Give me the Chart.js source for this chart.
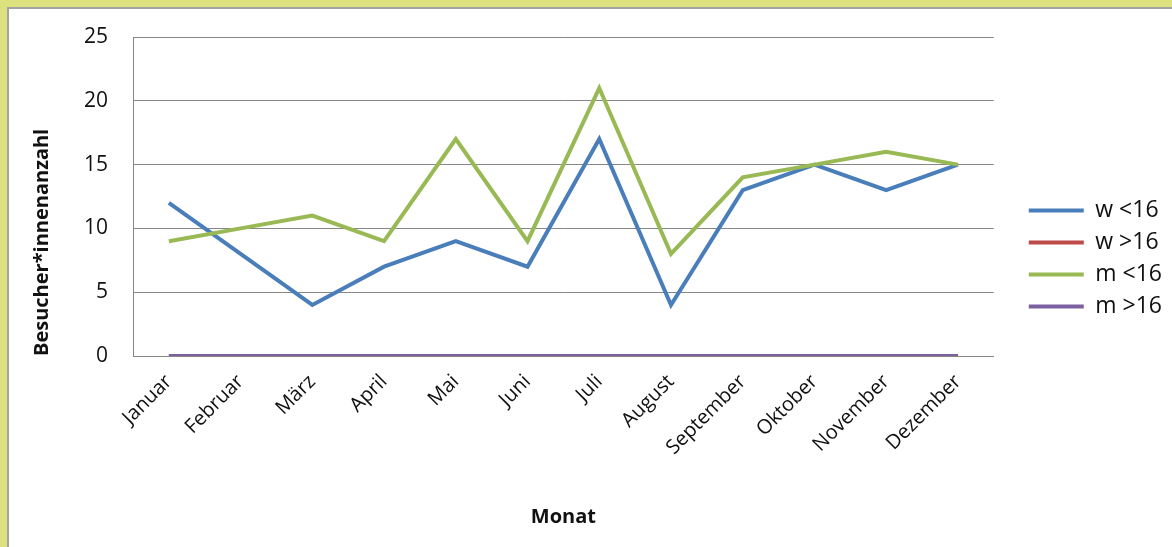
<!DOCTYPE html>
<html>
<head>
<meta charset="utf-8">
<script src="https://cdn.jsdelivr.net/npm/chart.js@4.4.1/dist/chart.umd.min.js"></script>
<style>
  html, body { margin: 0; padding: 0; background: #dde27f; overflow: hidden; }
  .frame {
    position: absolute; left: 7px; top: 7px;
    width: 1163px; height: 538px;
    border-top: 2px solid #a3a3a3; border-left: 2px solid #a3a3a3;
    background: #fff;
  }
  canvas { display: block; }
</style>
</head>
<body>
<div class="frame"><canvas id="chart" width="1163" height="538"></canvas></div>
<script>
const months = ['Januar', 'Februar', 'März', 'April', 'Mai', 'Juni', 'Juli',
    'August', 'September', 'Oktober', 'November', 'Dezember'];
const seriesNames = ['w <16', 'w >16', 'm <16', 'm >16'];
const wUnder16 = [12, 8, 4, 7, 9, 7, 17, 4, 13, 15, 13, 15];
const wOver16 = [0, 0, 0, 0, 0, 0, 0, 0, 0, 0, 0, 0];
const mUnder16 = [9, 10, 11, 9, 17, 9, 21, 8, 14, 15, 16, 15];
const mOver16 = [0, 0, 0, 0, 0, 0, 0, 0, 0, 0, 0, 0];
const colors = ['#4a7ebb', '#be4b48', '#98b954', '#7d60a0'];

const font = 'Open Sans';
const values = [wUnder16, wOver16, mUnder16, mOver16];

new Chart(document.getElementById('chart'), {
    type: 'line',
    data: {
        labels: months,
        datasets: values.map((v, i) => ({
            label: seriesNames[i],
            data: v,
            borderColor: colors[i],
            backgroundColor: colors[i],
            borderWidth: 4,
            pointRadius: 0,
            tension: 0,
            // Excel paints later series on top
            order: values.length - i,
        }))
    },
    options: {
        responsive: false,
        animation: false,
        layout: { padding: { left: 0, top: 28, right: 0, bottom: 0 } },
        plugins: {
            tooltip: { enabled: false },
            legend: {
                position: 'right',
                align: 'start',
                title: { display: true, text: '', font: { size: 10 }, padding: { top: 141, bottom: 0 } },
                labels: {
                    usePointStyle: true,
                    pointStyle: 'line',
                    pointStyleWidth: 55,
                    padding: 9,
                    color: '#111',
                    font: { family: font, size: 23 },
                    sort: (a, b) => a.datasetIndex - b.datasetIndex,
                }
            }
        },
        scales: {
            x: {
                offset: true,
                grid: { display: false },
                border: { color: '#878787', width: 1 },
                ticks: {
                    minRotation: 45, maxRotation: 45,
                    padding: 6,
                    color: '#111',
                    font: { family: font, size: 20 },
                },
                title: {
                    display: true, text: 'Monat', color: '#111',
                    font: { family: font, size: 20, weight: 'bold' },
                    padding: { top: 0, bottom: 18 },
                },
                afterFit: s => { s.height = 191; },
            },
            y: {
                min: 0, max: 25,
                ticks: {
                    stepSize: 5, padding: 0, color: '#111',
                    font: { family: font, size: 21 },
                },
                grid: { color: '#878787', lineWidth: 1, tickLength: 25, tickColor: 'rgba(0,0,0,0)' },
                border: { color: '#878787', width: 1 },
                title: {
                    display: true, text: 'Besucher*innenanzahl', align: 'start', color: '#111',
                    font: { family: font, size: 20, weight: 'bold' },
                    padding: { top: 21, bottom: 0 },
                },
                afterFit: s => { s.width = 124; },
            },
            gap: {
                position: 'right',
                grid: { display: false },
                border: { display: false },
                ticks: { display: false },
                afterFit: s => { s.width = 26; },
            }
        }
    }
});
</script>
</body>
</html>
